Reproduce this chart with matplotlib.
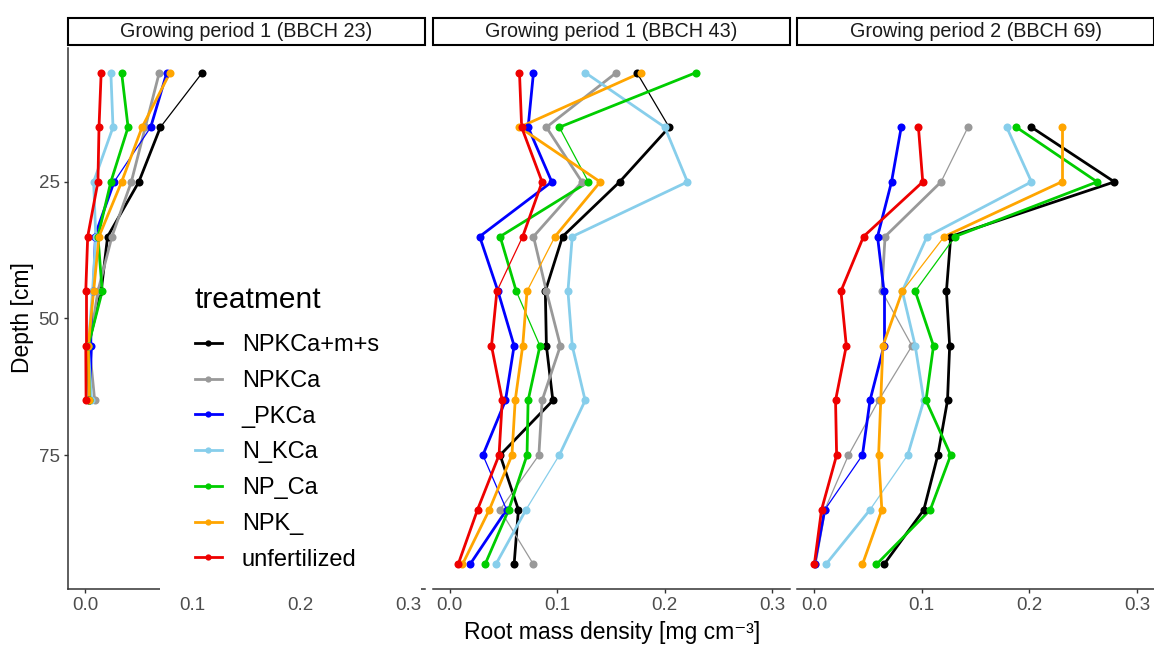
import matplotlib
matplotlib.use("Agg")
import matplotlib.pyplot as plt
from matplotlib.lines import Line2D
from matplotlib.patches import Rectangle

plt.rcParams["font.family"] = ["Liberation Sans", "DejaVu Sans"]

treatments = ["NPKCa+m+s", "NPKCa", "_PKCa", "N_KCa", "NP_Ca", "NPK_", "unfertilized"]
colors = ["black", "#999999", "#0000FF", "#87CEEB", "#00CD00", "#FFA500", "#EE0000"]

panel_titles = [
    "Growing period 1 (BBCH 23)",
    "Growing period 1 (BBCH 43)",
    "Growing period 2 (BBCH 69)",
]

# sampling depths (cm) per growth stage
depth_bbch23 = [5, 15, 25, 35, 45, 55, 65]
depth_bbch43 = [5, 15, 25, 35, 45, 55, 65, 75, 85, 95]
depth_bbch69 = [15, 25, 35, 45, 55, 65, 75, 85, 95]

# root mass density (mg cm-3)
rmd_bbch23 = {
    "NPKCa+m+s": [0.109, 0.070, 0.050, 0.021, 0.015, 0.003, 0.004],
    "NPKCa": [0.069, 0.056, 0.043, 0.025, 0.012, 0.004, 0.009],
    "_PKCa": [0.076, 0.061, 0.027, 0.009, 0.007, 0.006, 0.004],
    "N_KCa": [0.024, 0.026, 0.008, 0.010, 0.007, 0.003, 0.006],
    "NP_Ca": [0.034, 0.040, 0.024, 0.012, 0.016, 0.003, 0.004],
    "NPK_": [0.079, 0.053, 0.034, 0.013, 0.008, 0.003, 0.004],
    "unfertilized": [0.015, 0.013, 0.012, 0.0025, 0.0007, 0.0007, 0.001],
}

rmd_bbch43 = {
    "NPKCa+m+s": [0.174, 0.204, 0.158, 0.105, 0.089, 0.090, 0.096, 0.047, 0.064, 0.060],
    "NPKCa": [0.155, 0.090, 0.123, 0.078, 0.090, 0.103, 0.086, 0.083, 0.047, 0.078],
    "_PKCa": [0.078, 0.073, 0.095, 0.028, 0.045, 0.060, 0.052, 0.031, 0.053, 0.019],
    "N_KCa": [0.126, 0.200, 0.221, 0.114, 0.110, 0.114, 0.126, 0.102, 0.071, 0.043],
    "NP_Ca": [0.229, 0.102, 0.129, 0.047, 0.062, 0.084, 0.073, 0.072, 0.055, 0.033],
    "NPK_": [0.178, 0.065, 0.140, 0.098, 0.072, 0.068, 0.061, 0.058, 0.037, 0.012],
    "unfertilized": [0.065, 0.067, 0.086, 0.068, 0.044, 0.039, 0.049, 0.046, 0.026, 0.008],
}

rmd_bbch69 = {
    "NPKCa+m+s": [0.202, 0.279, 0.127, 0.123, 0.126, 0.124, 0.115, 0.102, 0.065],
    "NPKCa": [0.143, 0.118, 0.066, 0.063, 0.091, 0.060, 0.032, 0.010, 0.001],
    "_PKCa": [0.081, 0.072, 0.059, 0.065, 0.065, 0.052, 0.045, 0.010, 0.0005],
    "N_KCa": [0.179, 0.202, 0.105, 0.082, 0.094, 0.102, 0.087, 0.052, 0.011],
    "NP_Ca": [0.188, 0.263, 0.131, 0.094, 0.111, 0.104, 0.127, 0.108, 0.058],
    "NPK_": [0.230, 0.230, 0.121, 0.082, 0.064, 0.062, 0.060, 0.063, 0.045],
    "unfertilized": [0.097, 0.101, 0.046, 0.025, 0.030, 0.020, 0.021, 0.007, 0.0003],
}

# segments drawn with the thin line width (index of upper point)
thin_bbch23 = {"NPKCa+m+s": [0], "_PKCa": [1, 3, 4]}
thin_bbch43 = {
    "NPKCa+m+s": [0],
    "NPKCa": [7, 8],
    "_PKCa": [7],
    "N_KCa": [7],
    "NP_Ca": [1, 4],
    "NPK_": [3],
    "unfertilized": [3],
}
thin_bbch69 = {
    "NPKCa": [0, 3, 4, 5, 6],
    "_PKCa": [6],
    "N_KCa": [6],
    "NP_Ca": [2],
    "NPK_": [2],
}

W, H = 1154, 645
LW_THICK, LW_THIN = 2.0, 0.9


def plot_panel(ax, depth, values, thin):
    for name, col in zip(treatments, colors):
        x = values[name]
        thin_idx = thin.get(name, [])
        for i in range(len(depth) - 1):
            lw = LW_THIN if i in thin_idx else LW_THICK
            ax.plot(x[i:i + 2], depth[i:i + 2], color=col, lw=lw,
                    solid_capstyle="round", zorder=2)
    for name, col in zip(treatments, colors):
        ax.plot(values[name], depth, "o", color=col, ms=5.8, mew=0, zorder=3)


fig = plt.figure(figsize=(W / 100, H / 100), dpi=100)

lefts = [68, 432.5, 797]
panel_w = 357
top, bottom = 48, 589

axes = []
for left in lefts:
    ax = fig.add_axes([left / W, 1 - bottom / H, panel_w / W, (bottom - top) / H])
    axes.append(ax)

plot_panel(axes[0], depth_bbch23, rmd_bbch23, thin_bbch23)
plot_panel(axes[1], depth_bbch43, rmd_bbch43, thin_bbch43)
plot_panel(axes[2], depth_bbch69, rmd_bbch69, thin_bbch69)

for i, ax in enumerate(axes):
    ax.set_xlim(-0.0158, 0.3158)
    ax.set_ylim(99.5, 0.5)
    ax.set_xticks([0.0, 0.1, 0.2, 0.3])
    ax.set_xticklabels(["0.0", "0.1", "0.2", "0.3"])
    for side in ["top", "right"]:
        ax.spines[side].set_visible(False)
    ax.spines["bottom"].set_color("#333333")
    ax.spines["bottom"].set_linewidth(1.1)
    ax.tick_params(axis="x", length=3, width=1, color="#333333",
                   labelcolor="#4D4D4D", labelsize=13.5, pad=3)
    if i == 0:
        ax.spines["left"].set_color("#333333")
        ax.spines["left"].set_linewidth(1.1)
        ax.set_yticks([25, 50, 75])
        ax.tick_params(axis="y", length=3, width=1, color="#333333",
                       labelcolor="#4D4D4D", labelsize=13.5, pad=3)
    else:
        ax.spines["left"].set_visible(False)
        ax.set_yticks([])
    ax.set_facecolor("none")

    # facet strip
    strip_h = 27 / (bottom - top)
    gap = 3 / (bottom - top)
    ax.add_patch(Rectangle((0, 1 + gap), 1, strip_h, transform=ax.transAxes,
                           facecolor="white", edgecolor="black", lw=1.5,
                           clip_on=False))
    ax.text(0.5, 1 + gap + strip_h / 2, panel_titles[i], transform=ax.transAxes,
            ha="center", va="center", fontsize=14.2, color="#1A1A1A")

# legend background sits over the first panel's bottom axis
fig.add_artist(Rectangle((160 / W, 1 - 594 / H), (421 - 160) / W, (594 - 262) / H,
                         transform=fig.transFigure, facecolor="white",
                         edgecolor="none", zorder=4))

handles = [Line2D([0], [0], color=c, lw=LW_THICK, marker="o", ms=4.5, mew=0)
           for c in colors]
leg = fig.legend(handles, treatments, loc="upper left",
                 bbox_to_anchor=(178 / W, 1 - 269 / H), frameon=False,
                 title="treatment", fontsize=17, title_fontsize=21.5,
                 handlelength=1.15, handletextpad=0.85, labelspacing=0.58,
                 borderpad=0.2)
leg._legend_box.align = "left"
leg._legend_box.sep = 15
leg.set_zorder(5)

fig.text(612 / W, 1 - 632 / H, "Root mass density [mg cm\u207b\u00b3]",
         ha="center", va="center", fontsize=16.5)
fig.text(22 / W, 1 - 318 / H, "Depth [cm]", rotation=90,
         ha="center", va="center", fontsize=16.5)

fig.savefig("out.png", dpi=100)
